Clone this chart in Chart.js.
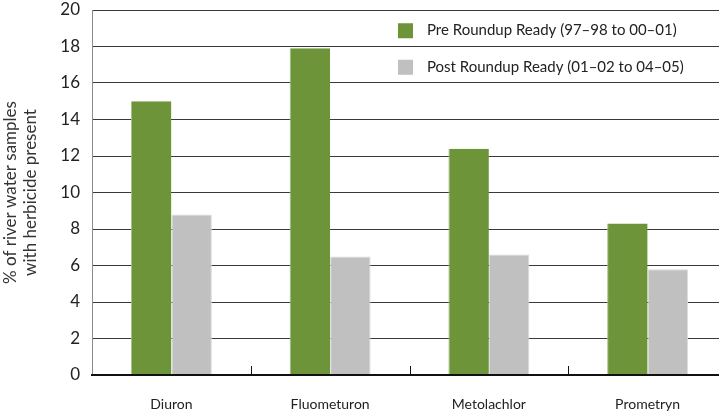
<!DOCTYPE html>
<html>
<head>
<meta charset="utf-8">
<script src="https://cdn.jsdelivr.net/npm/chart.js@4"></script>
<style>
  html, body { margin: 0; padding: 0; background: #fff; overflow: hidden; }
  #wrap { width: 719px; height: 413px; overflow: hidden; }
</style>
</head>
<body>
<div id="wrap"><canvas id="chart" width="727" height="413"></canvas></div>
<script>
const herbicides = ["Diuron", "Fluometuron", "Metolachlor", "Prometryn"];
const preRoundup = [15.0, 17.9, 12.4, 8.3];
const postRoundup = [8.8, 6.5, 6.6, 5.8];
const seriesNames = ["Pre Roundup Ready (97\u201398 to 00\u201301)", "Post Roundup Ready (01\u201302 to 04\u201305)"];
const yTicks = [0, 2, 4, 6, 8, 10, 12, 14, 16, 18, 20];

const FONT = "Lato, 'Noto Sans', sans-serif";

// legend sits inside the plot, top right, one item per grid band
const insideLegend = {
    id: "insideLegend",
    afterDatasetsDraw(chart) {
        const { ctx, scales } = chart;
        const y = scales.y;
        const left = 398;
        ctx.save();
        ctx.font = "15px " + FONT;
        ctx.textBaseline = "middle";
        chart.data.datasets.forEach((ds, i) => {
            const top = y.getPixelForValue(20 - 2 * i);
            const bottom = y.getPixelForValue(18 - 2 * i);
            const mid = (top + bottom) / 2 + 2;
            ctx.fillStyle = ds.backgroundColor;
            ctx.fillRect(left, mid - 7, 15, 15);
            ctx.fillStyle = "#222";
            ctx.fillText(ds.label, left + 29, mid);
        });
        ctx.restore();
    }
};

// short upward ticks between categories on the baseline
const categoryTicks = {
    id: "categoryTicks",
    afterDraw(chart) {
        const { ctx, scales } = chart;
        const x = scales.x;
        const base = scales.y.getPixelForValue(0);
        ctx.save();
        ctx.strokeStyle = "#111";
        ctx.lineWidth = 1;
        for (let i = 1; i < herbicides.length; i++) {
            const px = Math.round((x.getPixelForValue(i - 1) + x.getPixelForValue(i)) / 2) + 0.5;
            ctx.beginPath();
            ctx.moveTo(px, base);
            ctx.lineTo(px, base - 9);
            ctx.stroke();
        }
        ctx.lineWidth = 2;
        ctx.beginPath();
        ctx.moveTo(x.left - 1, base);
        ctx.lineTo(x.right, base);
        ctx.stroke();
        ctx.restore();
    }
};

new Chart(document.getElementById("chart"), {
    type: "bar",
    data: {
        labels: herbicides,
        datasets: [
            {
                label: seriesNames[0],
                data: preRoundup,
                backgroundColor: "#6e943a",
                borderColor: "#a7bf87",
                borderWidth: { left: 1, right: 0, top: 0, bottom: 0 },
                categoryPercentage: 0.51,
                barPercentage: 1.0
            },
            {
                label: seriesNames[1],
                data: postRoundup,
                backgroundColor: "#c0c0c0",
                borderColor: "#dcdcdc",
                borderWidth: { left: 1, right: 1, top: 1, bottom: 0 },
                categoryPercentage: 0.51,
                barPercentage: 1.0
            }
        ]
    },
    options: {
        responsive: false,
        animation: false,
        devicePixelRatio: 1,
        layout: { padding: { top: 10, right: 0, left: 0, bottom: 0 } },
        plugins: {
            legend: { display: false },
            tooltip: { enabled: false }
        },
        scales: {
            x: {
                offset: true,
                grid: { display: false },
                border: { display: false },
                ticks: {
                    color: "#222",
                    font: { family: FONT, size: 14 },
                    padding: 13
                },
                afterFit(scale) { scale.height = 38; }
            },
            y: {
                min: 0,
                max: 20,
                afterBuildTicks(scale) {
                    scale.ticks = yTicks.map(v => ({ value: v }));
                },
                grid: {
                    color: "#3a3a3a",
                    lineWidth: 1,
                    drawTicks: false
                },
                border: { display: true, color: "#8a8a8a", width: 1 },
                ticks: {
                    color: "#222",
                    font: { family: FONT, size: 17 },
                    padding: 12
                },
                title: {
                    display: true,
                    text: ["% of river water samples", "with herbicide present"],
                    color: "#333",
                    font: { family: FONT, size: 17 },
                    padding: { top: 0, bottom: 6 }
                },
                afterFit(scale) {
                    scale.width = 92;
                    scale.paddingTop = 0;
                    scale.paddingBottom = 0;
                }
            }
        }
    },
    plugins: [insideLegend, categoryTicks]
});
</script>
</body>
</html>
